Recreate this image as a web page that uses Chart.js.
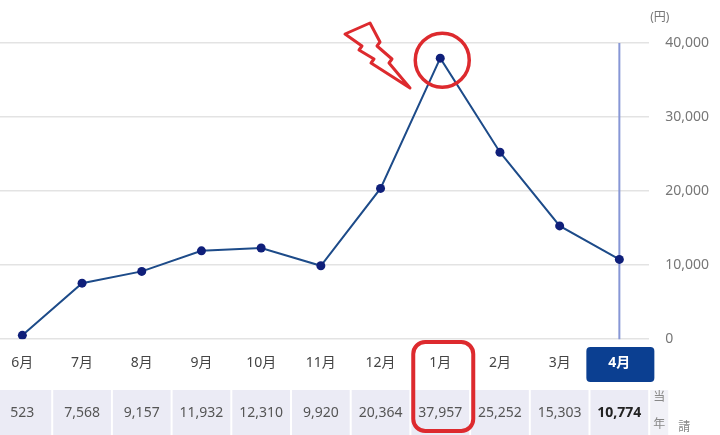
<!DOCTYPE html>
<html lang="ja">
<head>
<meta charset="utf-8">
<title>電気料金の推移</title>
<script src="https://cdn.jsdelivr.net/npm/chart.js@4.4.1/dist/chart.umd.min.js"></script>
<style>
  html, body { margin: 0; padding: 0; background: #fff; overflow: hidden; }
  #wrap { position: relative; width: 720px; height: 435px; overflow: hidden; }
  #ryokinChart { position: absolute; left: -12px; top: 0; }
</style>
</head>
<body>
<div id="wrap">
  <canvas id="ryokinChart" width="749" height="435"></canvas>
</div>
<script>
// データ
const months = ["6月", "7月", "8月", "9月", "10月", "11月", "12月", "1月", "2月", "3月", "4月"];
const charges = [523, 7568, 9157, 11932, 12310, 9920, 20364, 37957, 25252, 15303, 10774];
const yTicks = [0, 10000, 20000, 30000, 40000];
const unitLabel = "(円)";
const sideLabels = ["当", "年"];
const cutLabel = "請";
const currentIndex = 10; // 4月
const markedIndex = 7;   // 1月

const FONT = '"Noto Sans", "Noto Sans CJK JP", sans-serif';
const RED = "#dd2a2e";
const SHIFT = 12; // canvas is moved 12px to the left

function fmt(n) {
  return n.toLocaleString("en-US");
}

function roundRect(ctx, x, y, w, h, r) {
  ctx.beginPath();
  ctx.moveTo(x + r, y);
  ctx.arcTo(x + w, y, x + w, y + h, r);
  ctx.arcTo(x + w, y + h, x, y + h, r);
  ctx.arcTo(x, y + h, x, y, r);
  ctx.arcTo(x, y, x + w, y, r);
  ctx.closePath();
}

// 4月のラベル背景（ラベルより先に描く）と縦線
const highlightPlugin = {
  id: "highlight",
  beforeDraw(chart) {
    const { ctx, scales } = chart;
    const x = scales.x.getPixelForValue(currentIndex);
    ctx.save();
    ctx.fillStyle = "#0b3f91";
    roundRect(ctx, x - 33, 347, 68, 35, 4);
    ctx.fill();
    ctx.restore();
  },
  beforeDatasetsDraw(chart) {
    const { ctx, scales, chartArea } = chart;
    const x = scales.x.getPixelForValue(currentIndex);
    ctx.save();
    ctx.strokeStyle = "#8797d6";
    ctx.lineWidth = 2;
    ctx.beginPath();
    ctx.moveTo(x, chartArea.top);
    ctx.lineTo(x, chartArea.bottom);
    ctx.stroke();
    ctx.restore();
  },
};

// 下の金額の行と注釈
const tablePlugin = {
  id: "tableRow",
  afterDraw(chart) {
    const { ctx, scales } = chart;
    const xs = scales.x;
    const step = xs.getPixelForValue(1) - xs.getPixelForValue(0);
    const top = 390;
    const h = 50;

    ctx.save();
    months.forEach((m, i) => {
      const cx = xs.getPixelForValue(i);
      ctx.fillStyle = "#ebebf5";
      ctx.fillRect(cx - step / 2 + 1, top, step - 2, h);
      ctx.fillStyle = i === currentIndex ? "#222" : "#555";
      ctx.font = (i === currentIndex ? "bold " : "") + "14px " + FONT;
      ctx.textAlign = "center";
      ctx.textBaseline = "middle";
      ctx.fillText(fmt(charges[i]), cx, top + 23);
    });

    // 右端の細いセル
    const lastRight = xs.getPixelForValue(currentIndex) + step / 2;
    ctx.fillStyle = "#f1f1f7";
    ctx.fillRect(lastRight + 1, top, 18, h);
    ctx.fillStyle = "#888";
    ctx.font = "12px " + FONT;
    ctx.textAlign = "center";
    ctx.fillText(sideLabels[0], lastRight + 10, 398);
    ctx.fillText(sideLabels[1], lastRight + 10, 425);
    ctx.fillText(cutLabel, lastRight + 35, 428);

    // 単位
    ctx.fillStyle = "#777";
    ctx.font = "12px " + FONT;
    ctx.textAlign = "left";
    ctx.fillText(unitLabel, chart.chartArea.right + 1, 18);

    // 1月の囲み
    const mx = xs.getPixelForValue(markedIndex);
    const my = scales.y.getPixelForValue(charges[markedIndex]);
    ctx.strokeStyle = RED;
    ctx.lineWidth = 3.5;
    ctx.beginPath();
    ctx.arc(mx + 2, my + 2, 27, 0, Math.PI * 2);
    ctx.stroke();

    ctx.lineWidth = 4;
    roundRect(ctx, mx - 27, 342, 60, 89, 12);
    ctx.stroke();

    // 稲妻マーク
    const bolt = [
      [345, 34], [370, 23], [380, 42], [377, 46], [392, 59], [389, 63],
      [410, 88], [371, 63], [374, 59], [359, 50], [362, 46],
    ];
    ctx.lineWidth = 3;
    ctx.lineJoin = "round";
    ctx.beginPath();
    bolt.forEach(([px, py], i) => {
      if (i === 0) ctx.moveTo(px + SHIFT, py);
      else ctx.lineTo(px + SHIFT, py);
    });
    ctx.closePath();
    ctx.stroke();
    ctx.restore();
  },
};

const ctx = document.getElementById("ryokinChart").getContext("2d");

new Chart(ctx, {
  type: "line",
  data: {
    labels: months,
    datasets: [
      {
        label: "請求金額",
        data: charges,
        borderColor: "#1d4b89",
        borderWidth: 2,
        pointRadius: 4.5,
        pointBackgroundColor: "#0f1f7a",
        pointBorderColor: "#0f1f7a",
        pointBorderWidth: 0,
        tension: 0,
        fill: false,
      },
    ],
  },
  options: {
    responsive: false,
    animation: false,
    layout: { padding: { top: 43, right: 12, bottom: 49, left: 0 } },
    plugins: {
      legend: { display: false },
      tooltip: { enabled: false },
    },
    scales: {
      x: {
        offset: true,
        grid: { display: false, drawTicks: false },
        border: { display: false },
        ticks: {
          padding: 15,
          color: (c) => (c.index === currentIndex ? "#fff" : "#444"),
          font: (c) => ({
            family: FONT,
            size: 14,
            weight: c.index === currentIndex ? "bold" : "normal",
          }),
        },
      },
      y: {
        position: "right",
        min: 0,
        max: 40000,
        afterBuildTicks: (scale) => {
          scale.ticks = yTicks.map((v) => ({ value: v }));
        },
        grid: { color: "#e3e3e3", lineWidth: 1.5, drawTicks: false },
        border: { display: false },
        ticks: {
          padding: 16,
          color: "#777",
          font: { family: FONT, size: 14 },
          callback: (v) => fmt(v),
        },
      },
    },
  },
  plugins: [highlightPlugin, tablePlugin],
});
</script>
</body>
</html>
